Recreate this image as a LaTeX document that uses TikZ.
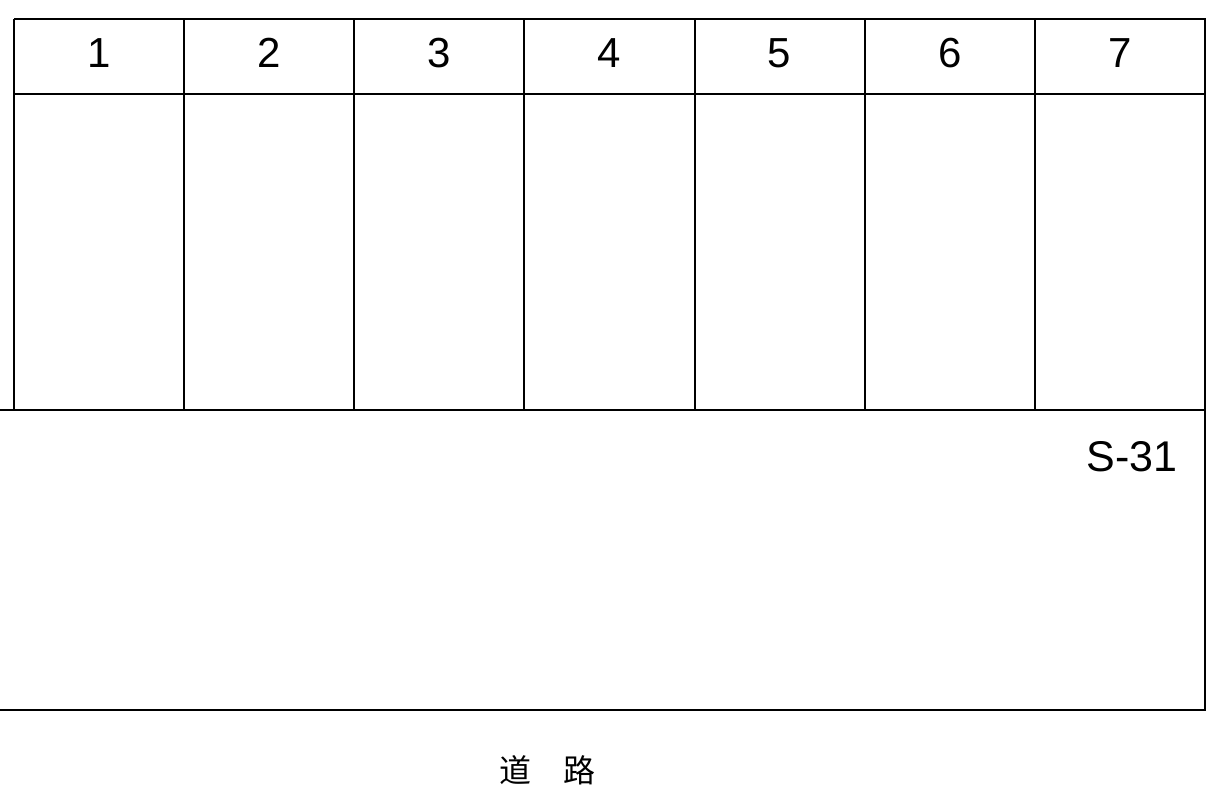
\documentclass[tikz,border=0pt]{standalone}
\usepackage{fontspec}
\setmainfont{Liberation Sans}
\newfontfamily\cjk{Noto Sans CJK SC}
\begin{document}
\begin{tikzpicture}[x=1pt,y=-1pt,
  gridline/.style={draw=black,line width=2pt},
  numlabel/.style={font=\fontsize{42}{42}\selectfont,anchor=center,inner sep=0pt},
  tag/.style={font=\fontsize{43}{43}\selectfont,anchor=base east,inner sep=0pt},
  roadlabel/.style={font=\cjk\fontsize{32}{32}\selectfont,anchor=center,inner sep=0pt}]
\useasboundingbox (0,0) rectangle (1221,802);
% coordinates
\coordinate (tl) at (14,19);
\coordinate (tr) at (1205,19);
\coordinate (hl) at (14,94);
\coordinate (hr) at (1205,94);
\coordinate (bl) at (0,410);
\coordinate (gbl) at (14,410);
\coordinate (br) at (1205,410);
\coordinate (rl) at (0,710);
\coordinate (rr) at (1205,710);
% outer lines
\draw[gridline] (tl) -- (tr) -- (rr) -- (rl);
\draw[gridline] (hl) -- (hr);
\draw[gridline] (bl) -- (br);
\draw[gridline] (tl) -- (gbl);
\foreach \i in {1,...,6} {
  \pgfmathsetmacro{\xx}{14+170.14*\i}
  \draw[gridline] (\xx,19) -- (\xx,410);
}
\foreach \i in {1,...,7} {
  \pgfmathsetmacro{\xc}{14+170.14*(\i-0.5)}
  \node[numlabel] (n\i) at (\xc,53) {\i};
}
\node[tag] (s31) at (1178,471) {S-31};
\node[roadlabel] (road) at (547,770) {道　路};
\end{tikzpicture}
\end{document}
